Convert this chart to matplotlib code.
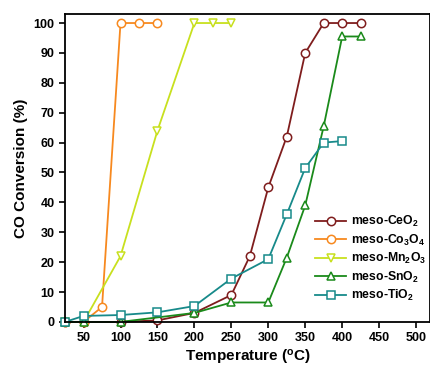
import matplotlib
matplotlib.use("Agg")
import matplotlib.pyplot as plt

plt.rcParams['font.family'] = ['Liberation Sans', 'DejaVu Sans']
plt.rcParams['font.weight'] = 'bold'
plt.rcParams['mathtext.fontset'] = 'custom'
plt.rcParams['mathtext.rm'] = 'Liberation Sans:bold'
plt.rcParams['mathtext.bf'] = 'Liberation Sans:bold'
plt.rcParams['mathtext.default'] = 'bf'

# data
ceo2_t = [25, 50, 100, 150, 200, 250, 275, 300, 325, 350, 375, 400, 425]
ceo2_c = [0, 0, 0, 0.5, 3, 9, 22, 45, 62, 90, 100, 100, 100]

co3o4_t = [25, 50, 75, 100, 125, 150]
co3o4_c = [0, 0, 5, 100, 100, 100]

mn2o3_t = [25, 50, 100, 150, 200, 225, 250]
mn2o3_c = [0, 0, 22, 64, 100, 100, 100]

sno2_t = [25, 50, 100, 200, 250, 300, 325, 350, 375, 400, 425]
sno2_c = [0, 0, 0, 3, 6.5, 6.5, 21.5, 39, 65.5, 95.5, 95.5]

tio2_t = [25, 50, 100, 150, 200, 250, 300, 325, 350, 375, 400]
tio2_c = [0, 2, 2.3, 3.2, 5.3, 14.5, 21, 36, 51.5, 60, 60.5]

fig = plt.figure(figsize=(4.31, 3.70), dpi=100)
ax = fig.add_axes([0.151, 0.13, 0.847, 0.832])

style = dict(lw=1.3, ms=6, markerfacecolor='white', mew=1.1, clip_on=False, zorder=3)
ax.plot(ceo2_t, ceo2_c, '-o', color='#7f1d1d', label='meso-CeO$_2$', **style)
ax.plot(co3o4_t, co3o4_c, '-o', color='#f7891f', label='meso-Co$_3$O$_4$', **style)
ax.plot(mn2o3_t, mn2o3_c, '-v', color='#c8e01e', label='meso-Mn$_2$O$_3$', **style)
ax.plot(sno2_t, sno2_c, '-^', color='#1a8a1a', label='meso-SnO$_2$', **style)
ax.plot(tio2_t, tio2_c, '-s', color='#178a8a', label='meso-TiO$_2$', **style)

ax.set_xlim(25, 519)
ax.set_ylim(0, 103)
ax.set_xticks([50, 100, 150, 200, 250, 300, 350, 400, 450, 500])
ax.set_yticks(range(0, 101, 10))
ax.tick_params(axis='both', labelsize=9, direction='out', length=4, width=1.2)
for lab in ax.get_xticklabels() + ax.get_yticklabels():
    lab.set_fontweight('bold')
for s in ax.spines.values():
    s.set_linewidth(1.3)
    s.set_zorder(4)

ax.set_xlabel('Temperature ($^\\mathrm{o}$C)', fontsize=11, fontweight='bold', labelpad=3)
ax.set_ylabel('CO Conversion (%)', fontsize=11, fontweight='bold', labelpad=4)

ax.legend(loc='center left', bbox_to_anchor=(0.672, 0.205), frameon=False,
          fontsize=8.8, handlelength=2.5, labelspacing=0.28, handletextpad=0.4,
          borderaxespad=0)

fig.savefig('out.png', dpi=100)
